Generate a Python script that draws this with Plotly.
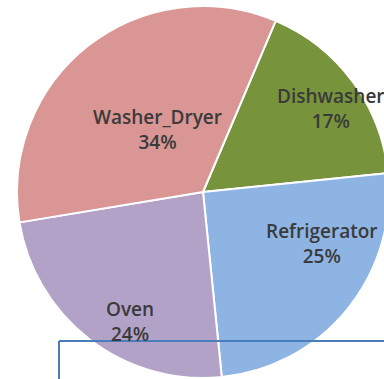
import plotly.graph_objects as go

labels = ["Dishwasher", "Refrigerator", "Oven", "Washer_Dryer"]
values = [17, 25, 24, 34]
colors = ["#77933C", "#8EB4E3", "#B3A2C7", "#D99694"]
# label anchor positions (pixels in the 390x379 canvas), styling only
label_px = {"Dishwasher": (331, 109), "Refrigerator": (321, 243),
            "Oven": (130, 321), "Washer_Dryer": (157, 130)}

W, H = 390, 379
cx, cy, r = 203, 192, 186

fig = go.Figure(go.Pie(
    labels=labels, values=values, sort=False, direction="clockwise",
    rotation=23, textinfo="none", hoverinfo="skip",
    marker=dict(colors=colors, line=dict(color="white", width=2)),
    domain=dict(x=[(cx - r) / W, (cx + r) / W], y=[1 - (cy + r) / H, 1 - (cy - r) / H]),
    showlegend=False,
))

total = sum(values)
for lab, v in zip(labels, values):
    px, py = label_px[lab]
    fig.add_annotation(x=px / W, y=1 - py / H, xref="paper", yref="paper",
                       text=f"{lab}<br>{round(100 * v / total)}%", showarrow=False,
                       font=dict(family="Open Sans", size=19, color="#3A3A3A", weight=600),
                       xanchor="center", yanchor="middle")

blue = "#4A7EBB"
fig.add_shape(type="line", xref="paper", yref="paper", x0=59 / W, x1=1.0,
              y0=1 - 341 / H, y1=1 - 341 / H, line=dict(color=blue, width=2))
fig.add_shape(type="line", xref="paper", yref="paper", x0=59 / W, x1=59 / W,
              y0=1 - 341 / H, y1=0, line=dict(color=blue, width=2))

fig.update_layout(width=W, height=H, margin=dict(l=0, r=0, t=0, b=0),
                  paper_bgcolor="white", plot_bgcolor="white")

fig.write_html("out.html", post_script="document.documentElement.style.overflow='hidden';document.body.style.overflow='hidden';document.body.style.margin='0';")
